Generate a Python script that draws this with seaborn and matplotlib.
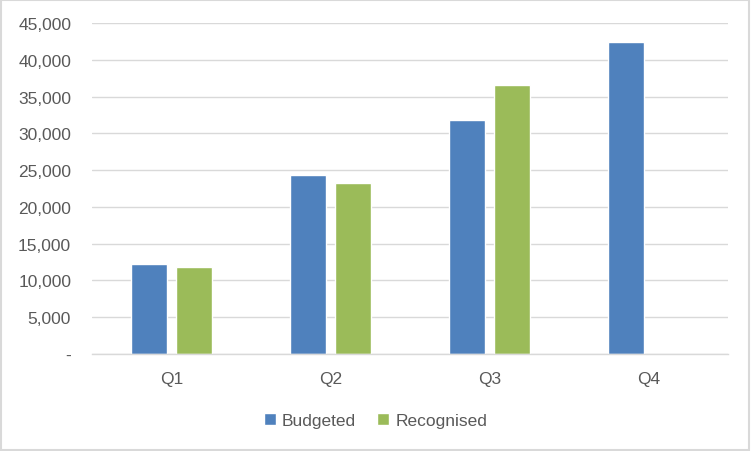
import pandas as pd
import numpy as np
import matplotlib
matplotlib.use('Agg')
import matplotlib.pyplot as plt
import seaborn as sns
from matplotlib.patches import Rectangle
from matplotlib.ticker import FuncFormatter

quarters = ['Q1', 'Q2', 'Q3', 'Q4']
budgeted = [12200, 24300, 31800, 42400]
recognised = [11800, 23200, 36600, np.nan]
series_names = ['Budgeted', 'Recognised']

df = pd.DataFrame({
    'quarter': quarters * 2,
    'series': [series_names[0]] * 4 + [series_names[1]] * 4,
    'value': budgeted + recognised,
})

sns.set_style('white')
plt.rcParams['font.family'] = ['Liberation Sans', 'DejaVu Sans']

text_col = '#595959'
grid_col = '#D9D9D9'
palette = {'Budgeted': '#4F81BD', 'Recognised': '#9BBB59'}

fig = plt.figure(figsize=(7.51, 4.52), dpi=100)
ax = fig.add_axes([0.1225, 0.2146, 0.8469, 0.7323])

sns.barplot(data=df, x='quarter', y='value', hue='series', order=quarters,
            hue_order=series_names, palette=palette, width=0.566, gap=0.2,
            saturation=1, ax=ax, legend=True)

ax.set_ylim(0, 45000)
ax.set_yticks(range(0, 45001, 5000))
ax.yaxis.set_major_formatter(FuncFormatter(lambda v, p: '-' if v == 0 else f'{int(v):,}'))
ax.grid(axis='y', color=grid_col, linewidth=1)
ax.set_axisbelow(True)
for s in ['left', 'right', 'top']:
    ax.spines[s].set_visible(False)
ax.spines['bottom'].set_color(grid_col)
ax.spines['bottom'].set_linewidth(1)
ax.tick_params(axis='y', length=0, pad=15, labelsize=12.5, labelcolor=text_col)
ax.tick_params(axis='x', length=0, pad=12, labelsize=12.5, labelcolor=text_col)
ax.set_xlabel('')
ax.set_ylabel('')

handles, labels = ax.get_legend_handles_labels()
ax.legend(handles, labels, loc='center', bbox_to_anchor=(0.5, 0.068),
          bbox_transform=fig.transFigure, ncol=2, frameon=False,
          fontsize=12.5, labelcolor=text_col, handlelength=0.7, handleheight=0.7,
          handletextpad=0.35, columnspacing=1.2)

fig.patches.append(Rectangle((0.001, 0.002), 0.997, 0.996, transform=fig.transFigure,
                             fill=False, edgecolor=grid_col, linewidth=1.5))

fig.savefig('out.png', dpi=100, facecolor='white')
